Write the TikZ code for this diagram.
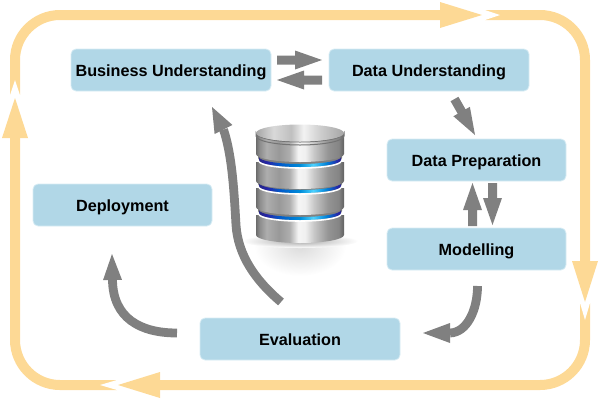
\documentclass[tikz,border=0pt]{standalone}
\usepackage{fontspec}
\setmainfont{Liberation Sans}
\usetikzlibrary{calc}
\definecolor{loopc}{HTML}{FDD995}
\definecolor{boxc}{HTML}{B1D7E7}
\definecolor{boxe}{HTML}{D8ECF4}
\definecolor{arrowc}{HTML}{808080}
\pgfdeclarehorizontalshading{metal}{100bp}{color(0bp)=(black!55);color(25bp)=(black!58);color(27bp)=(black!45);color(31bp)=(black!32);color(38bp)=(black!40);color(44bp)=(black!32);color(49bp)=(black!4);color(53bp)=(black!6);color(58bp)=(black!22);color(66bp)=(black!42);color(72bp)=(black!48);color(75bp)=(black!62);color(100bp)=(black!62)}
\pgfdeclarehorizontalshading{bluemetal}{100bp}{color(0bp)=(blue!45!black!85);color(25bp)=(blue!45!black!85);color(30bp)=(blue!60!black!85);color(38bp)=(blue!55!cyan!80!black);color(50bp)=(cyan!65!blue!85!black);color(58bp)=(cyan!75!blue!70);color(66bp)=(cyan!60!blue!85!black);color(73bp)=(blue!60!black!85);color(75bp)=(blue!45!black!85);color(100bp)=(blue!45!black!85)}
\pgfdeclarehorizontalshading{capmetal}{100bp}{color(0bp)=(black!35);color(25bp)=(black!35);color(35bp)=(black!15);color(45bp)=(black!25);color(52bp)=(black!5);color(62bp)=(black!20);color(75bp)=(black!35);color(100bp)=(black!35)}
\tikzset{
  stagebox/.style={fill=boxc,draw=boxe,line width=0.8pt,rounded corners=5pt,minimum width=200pt,minimum height=42pt,inner sep=0pt,text=black,text height=13.5pt,text depth=0.5pt,font=\fontsize{16.2}{18}\selectfont\bfseries},
  widebox/.style={stagebox,minimum width=179pt},
  looppath/.style={draw=loopc,line width=10pt,rounded corners=45pt},
  loophead/.style={fill=loopc},
  flowcurve/.style={draw=arrowc,line width=8.8pt},
  flowfill/.style={fill=arrowc},
  notch/.style={fill=white}
}
% block arrow from #1 to #2
\newcommand{\blockarrow}[2]{%
  \fill[flowfill] ($(#1)!4.5pt!90:(#2)$) -- ($(#2)!27pt!(#1)!4.5pt!90:(#2)$) -- ($(#2)!27pt!(#1)!9.5pt!90:(#2)$) -- (#2)
   -- ($(#2)!27pt!(#1)!9.5pt!-90:(#2)$) -- ($(#2)!27pt!(#1)!4.5pt!-90:(#2)$) -- ($(#1)!4.5pt!-90:(#2)$) -- cycle;}
% only the head, base centre #1, tip #2, half width #3
\newcommand{\headonly}[3]{%
  \fill[flowfill] ($(#1)!#3!90:(#2)$) -- (#2) -- ($(#1)!#3!-90:(#2)$) -- cycle;}
% one drum of the database: top y, lower edge y
\newcommand{\drum}[2]{%
  \shade[shading=metal] (256,#1) -- (256,#2) arc[start angle=180,end angle=360,x radius=44pt,y radius=8pt] -- (344,#1) -- cycle;}
% band below a drum, at edge y
\newcommand{\dband}[1]{%
  \fill[black!50] (258,#1-1) -- (258,#1+1) arc[start angle=180,end angle=360,x radius=42pt,y radius=8pt] -- (342,#1-1) -- cycle;
  \shade[shading=bluemetal] (259,#1) -- (259,#1+3) arc[start angle=180,end angle=360,x radius=41pt,y radius=7pt] -- (341,#1) arc[start angle=0,end angle=-180,x radius=41pt,y radius=7pt] -- cycle;}
\newcommand{\drim}[1]{%
  \draw[white,line width=1.6pt] (259,#1+4) arc[start angle=180,end angle=360,x radius=41pt,y radius=7pt];}
\begin{document}
\begin{tikzpicture}[x=1pt,y=-1pt]
\useasboundingbox (0,0) rectangle (600,400);
% outer loop
\coordinate (ltl) at (15,15);
\coordinate (lbr) at (585,385);
\draw[looppath] (ltl) rectangle (lbr);
\fill[notch] (460,8) -- (485,8) -- (485,10) -- (500,15) -- (485,20) -- (485,22) -- (460,22) -- cycle;
\fill[notch] (8,120) -- (8,95) -- (10,95) -- (15,80) -- (20,95) -- (22,95) -- (22,120) -- cycle;
\fill[notch] (140,378) -- (117,378) -- (117,380) -- (100,385) -- (117,390) -- (117,392) -- (140,392) -- cycle;
\fill[notch] (578,280) -- (578,303) -- (580,303) -- (585,320) -- (590,303) -- (592,303) -- (592,280) -- cycle;
\fill[loophead] (440,2) -- (482,15) -- (440,28) -- cycle;
\fill[loophead] (2,138) -- (15,98) -- (28,138) -- cycle;
\fill[loophead] (160,372) -- (118,385) -- (160,398) -- cycle;
\fill[loophead] (572,261) -- (585,302) -- (598,261) -- cycle;
% database
\shade[inner color=black!14,outer color=white] (300,246) ellipse[x radius=46pt,y radius=30pt];
\shade[inner color=black!34,outer color=white] (300,241) ellipse[x radius=58pt,y radius=7pt];
\drum{215}{235}
\drim{210}
\dband{210}
\drum{188}{207}
\drim{183}
\dband{183}
\drum{162}{181}
\drim{157}
\dband{157}
\drum{133}{154}
\draw[black!55,line width=1pt] (256,133) arc[start angle=180,end angle=360,x radius=44pt,y radius=9pt] -- (344,136) arc[start angle=0,end angle=-180,x radius=44pt,y radius=9pt] -- cycle;
\shade[shading=capmetal] (300,133) ellipse[x radius=44pt,y radius=8.5pt];
% stages
\node[stagebox] (bu) at (171,70) {Business Understanding};
\node[stagebox] (du) at (429,70) {Data Understanding};
\node[widebox] (dp) at (476.5,160) {Data Preparation};
\node[widebox] (mo) at (476.5,249) {Modelling};
\node[stagebox] (ev) at (300,339) {Evaluation};
\node[widebox] (de) at (122.5,205) {Deployment};
% block arrows
\coordinate (a1) at (277,60); \coordinate (a2) at (322,60);
\coordinate (b1) at (322,80); \coordinate (b2) at (277,80);
\coordinate (c1) at (454.5,99); \coordinate (c2) at (475,135);
\coordinate (d1) at (472.5,226); \coordinate (d2) at (472.5,183);
\coordinate (e1) at (492.5,183); \coordinate (e2) at (492.5,225);
\blockarrow{a1}{a2}
\blockarrow{b1}{b2}
\blockarrow{c1}{c2}
\blockarrow{d1}{d2}
\blockarrow{e1}{e2}
% curved arrows
\coordinate (f1) at (477.5,286); \coordinate (f2) at (450,333); \coordinate (f3) at (423,333);
\draw[flowcurve] (f1) .. controls (477.5,310) and (467,332.5) .. (f2);
\headonly{f2}{f3}{10pt}
\coordinate (g1) at (177,333); \coordinate (g2) at (112.5,280); \coordinate (g3) at (112,254);
\draw[flowcurve] (g1) .. controls (140,333) and (113,318) .. (g2);
\headonly{g2}{g3}{9.5pt}
\coordinate (h1) at (281,302); \coordinate (hm) at (236,225); \coordinate (h2) at (223.5,129.5); \coordinate (h3) at (212,107);
\draw[flowcurve] (h1) .. controls (255,280) and (238,255) .. (hm) .. controls (234,190) and (232,155) .. (h2);
\headonly{h2}{h3}{10pt}
\end{tikzpicture}
\end{document}
